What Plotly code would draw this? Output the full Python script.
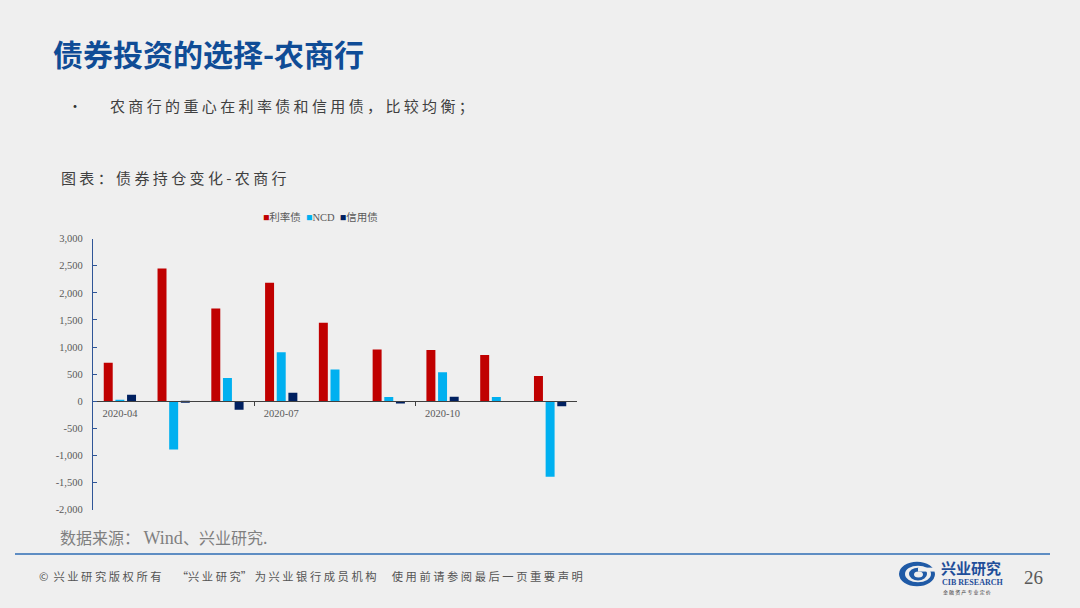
import plotly.graph_objects as go

# ---------------- data ----------------
months = ["2020-04", "2020-05", "2020-06", "2020-07", "2020-08",
          "2020-09", "2020-10", "2020-11", "2020-12"]
rate_bonds = [710, 2450, 1710, 2185, 1450, 955, 945, 855, 465]      # 利率债
ncd = [20, -890, 432, 907, 588, 80, 535, 80, -1390]                 # NCD
credit_bonds = [122, -25, -155, 158, 0, -40, 85, 0, -90]            # 信用债
series_names = ["利率债", "NCD", "信用债"]
series_colors = ["#C00000", "#00B0F0", "#002060"]
x_label_months = ["2020-04", "2020-07", "2020-10"]
y_tick_vals = [-2000, -1500, -1000, -500, 0, 500, 1000, 1500, 2000, 2500, 3000]
y_tick_text = ["-2,000", "-1,500", "-1,000", "-500", "0", "500", "1,000",
               "1,500", "2,000", "2,500", "3,000"]

W, H = 1080, 608
BG = "#EFEFEF"

def px(x):
    return x / W

def py(y):
    return 1 - y / H

x_idx = list(range(len(months)))
y_min, y_max = -2000, 3000
ydom = [py(514), py(238)]
xdom = [px(93), px(577)]
zero_pos = ydom[0] + (0 - y_min) / (y_max - y_min) * (ydom[1] - ydom[0])

fig = go.Figure()
for name, vals, col in zip(series_names, [rate_bonds, ncd, credit_bonds], series_colors):
    fig.add_trace(go.Bar(x=x_idx, y=vals, name=name, marker=dict(color=col, line=dict(width=0)),
                         showlegend=False, xaxis="x", yaxis="y"))

label_idx = [months.index(m) for m in x_label_months]
boundary_ticks = [i - 0.5 for i in label_idx[1:]]

fig.update_layout(
    width=W, height=H,
    margin=dict(l=0, r=0, t=0, b=0),
    paper_bgcolor=BG, plot_bgcolor="rgba(0,0,0,0)",
    barmode="group", bargap=0.35, bargroupgap=0.23,
    font=dict(family="Liberation Serif, Noto Sans CJK SC", color="#595959", size=10),
    xaxis=dict(domain=xdom, range=[-0.5, len(months) - 0.5], anchor="free", position=zero_pos,
               tickmode="array", tickvals=label_idx, ticktext=x_label_months,
               ticks="", showline=True, linecolor="#404040", linewidth=1,
               showgrid=False, zeroline=False, fixedrange=True, ticklabelstandoff=2,
               tickfont=dict(family="Liberation Serif", size=10.5, color="#595959")),
    xaxis2=dict(domain=xdom, range=[-0.5, len(months) - 0.5], anchor="free", position=zero_pos,
                overlaying="x", tickmode="array", tickvals=boundary_ticks, showticklabels=False,
                ticks="outside", ticklen=4, tickcolor="#404040", showline=False, showgrid=False,
                zeroline=False),
    yaxis=dict(domain=ydom, range=[y_min, y_max], tickmode="array", tickvals=y_tick_vals,
               ticktext=y_tick_text, ticks="inside", ticklen=4, tickcolor="#2F5597",
               showline=True, linecolor="#2F5597", linewidth=1.3, showgrid=False,
               zeroline=False, anchor="x", ticklabelstandoff=7,
               tickfont=dict(family="Liberation Serif", size=10.5, color="#595959")),
)
fig.add_trace(go.Scatter(x=[0], y=[0], xaxis="x2", yaxis="y", mode="markers",
                         marker=dict(opacity=0), showlegend=False, hoverinfo="skip"))

legend_html = "&nbsp;&nbsp;".join(
    f"<span style='color:{c}'>■</span>{n}" for n, c in zip(series_names, series_colors))
annotations = [
    dict(x=px(320), y=py(216), xref="paper", yref="paper", text=legend_html, showarrow=False,
         font=dict(family="Liberation Serif, Noto Sans CJK SC", size=10.5, color="#595959"),
         xanchor="center", yanchor="middle"),
    # title
    dict(x=px(51), y=py(49), xref="paper", yref="paper", text="<b>债券投资的选择-农商行</b>",
         showarrow=False, font=dict(family="Noto Sans CJK SC", size=30, color="#0F4C96"),
         xanchor="left", yanchor="middle"),
    # bullet
    dict(x=px(66), y=py(102), xref="paper", yref="paper", text="•", showarrow=False,
         font=dict(family="Noto Sans CJK SC", size=14, color="#333333"),
         xanchor="left", yanchor="middle"),
    dict(x=px(108), y=py(102), xref="paper", yref="paper",
         text="农 商 行 的 重 心 在 利 率 债 和 信 用 债 ， 比 较 均 衡 ；", showarrow=False,
         font=dict(family="Noto Sans CJK SC", size=15, color="#404040"),
         xanchor="left", yanchor="middle"),
    # chart caption
    dict(x=px(59), y=py(176), xref="paper", yref="paper", text="图 表 ： 债 券 持 仓 变 化 - 农 商 行",
         showarrow=False, font=dict(family="Noto Sans CJK SC", size=15, color="#404040"),
         xanchor="left", yanchor="middle"),
    # source
    dict(x=px(58), y=py(542), xref="paper", yref="paper",
         text="数据来源： <span style='font-family:Liberation Serif;font-size:18px'>Wind</span>、兴业研究.",
         showarrow=False, font=dict(family="Noto Sans CJK SC", size=16, color="#7F7F7F"),
         xanchor="left", yanchor="middle"),
    # footer
    dict(x=px(37), y=py(582), xref="paper", yref="paper",
         text="©  兴 业 研 究 版 权 所 有      “兴 业 研 究” 为 兴 业 银 行 成 员 机 构      使 用 前 请 参 阅 最 后 一 页 重 要 声 明",
         showarrow=False, font=dict(family="Noto Sans CJK SC", size=11.3, color="#555555"),
         xanchor="left", yanchor="middle"),
    # logo texts
    dict(x=px(939), y=py(573), xref="paper", yref="paper", text="<b>兴业研究</b>", showarrow=False,
         font=dict(family="Noto Sans CJK SC", size=15, color="#1F4E9A"),
         xanchor="left", yanchor="middle"),
    dict(x=px(940), y=py(588), xref="paper", yref="paper", text="<b>CIB RESEARCH</b>", showarrow=False,
         font=dict(family="Liberation Serif", size=8, color="#1F4E9A"),
         xanchor="left", yanchor="middle"),
    dict(x=px(941), y=py(598), xref="paper", yref="paper", text="金 融 资 产 专 业 定 价", showarrow=False,
         font=dict(family="Noto Sans CJK SC", size=5, color="#333333"),
         xanchor="left", yanchor="middle"),
    dict(x=px(1033), y=py(583), xref="paper", yref="paper", text="26", showarrow=False,
         font=dict(family="Liberation Serif", size=19, color="#595959"),
         xanchor="center", yanchor="middle"),
]
fig.update_layout(annotations=annotations)

shapes = [
    dict(type="line", xref="paper", yref="paper", x0=px(15), x1=px(1050), y0=py(559), y1=py(559),
         line=dict(color="#2E6DB4", width=1.5)),
    dict(type="circle", xref="paper", yref="paper", x0=px(899), x1=px(935), y0=py(592), y1=py(567),
         fillcolor="#1F5AA6", line=dict(width=0)),
    dict(type="circle", xref="paper", yref="paper", x0=px(905), x1=px(931), y0=py(588), y1=py(571),
         fillcolor=BG, line=dict(width=0)),
    dict(type="circle", xref="paper", yref="paper", x0=px(909), x1=px(927), y0=py(586), y1=py(573),
         fillcolor="#1F5AA6", line=dict(width=0)),
    dict(type="circle", xref="paper", yref="paper", x0=px(914), x1=px(923), y0=py(583), y1=py(577),
         fillcolor=BG, line=dict(width=0)),
    dict(type="rect", xref="paper", yref="paper", x0=px(918), x1=px(935), y0=py(577), y1=py(573),
         fillcolor=BG, line=dict(width=0)),
]
fig.update_layout(shapes=shapes)

fig.write_html("out.html", config={"displayModeBar": False},
               post_script="document.body.style.margin='0';document.body.style.padding='0';"
                           "document.body.style.background='" + BG + "';")
